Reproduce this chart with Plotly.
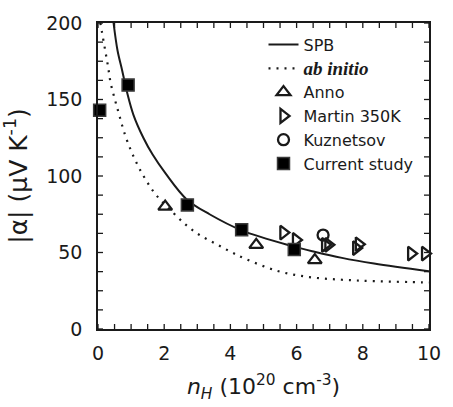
import plotly.graph_objects as go

# SPB model curve
spb_x = [0.47, 0.59, 0.73, 0.88, 1.07, 1.37, 1.65, 2.03, 2.68, 3.37, 4.34, 5.9, 6.54, 7.37, 8.34, 10.0]
spb_y = [200, 182, 169, 154.5, 140, 125, 114, 102, 84.7, 75, 64.5, 54, 50.5, 46.5, 42.8, 37.7]

# ab initio curve
ab_x = [0.07, 0.12, 0.21, 0.30, 0.38, 0.51, 0.64, 0.80, 0.98, 1.2, 1.43, 1.74, 2.27, 2.66, 3.07,
        3.53, 3.98, 4.44, 5.41, 6.39, 7.37, 8.34, 9.8, 10.0]
ab_y = [200, 194, 183, 172, 161, 150, 140, 128, 117.5, 107, 98, 88, 76, 68, 61.4,
        56, 50.8, 46, 38, 33.9, 32.2, 31.3, 30.5, 30.4]

anno_x = [2.03, 4.78, 6.55]
anno_y = [80, 55, 45]

martin_x = [5.6, 5.98, 6.86, 6.96, 7.8, 7.88, 9.46, 9.88]
martin_y = [63, 58.2, 55, 55, 52.9, 55.4, 49.3, 49.3]

kuz_x = [6.8]
kuz_y = [61.4]

cur_x = [0.05, 0.91, 2.70, 4.34, 5.93]
cur_y = [142.9, 159.4, 81.1, 64.8, 51.9]

# tick positions
x_ticks = [0, 2, 4, 6, 8, 10]
x_minor = [0.5 * i for i in range(21)]
y_ticks = [0, 50, 100, 150, 200]
y_minor = [12.5 * i for i in range(17)]

FONT = "DejaVu Sans, Liberation Sans, Arial, sans-serif"
INK = "#1a1a1a"

fig = go.Figure()
fig.add_trace(go.Scatter(x=spb_x, y=spb_y, mode="lines", name="SPB",
                         line=dict(color=INK, width=2, shape="spline", smoothing=1.0)))
fig.add_trace(go.Scatter(x=ab_x, y=ab_y, mode="lines",
                         name="<span style='font-family:Liberation Serif, Times New Roman, serif;font-size:19px'><b><i>ab initio</i></b></span>",
                         line=dict(color=INK, width=2.2, dash="2px,6px", shape="spline", smoothing=1.0)))
fig.add_trace(go.Scatter(x=anno_x, y=anno_y, mode="markers", name="Anno",
                         marker=dict(symbol="triangle-up-open", size=12, color=INK, line=dict(width=2.3, color=INK)),
                         cliponaxis=False))
fig.add_trace(go.Scatter(x=martin_x, y=martin_y, mode="markers", name="Martin 350K",
                         marker=dict(symbol="triangle-right-open", size=12, color=INK, line=dict(width=2.3, color=INK)),
                         cliponaxis=False))
fig.add_trace(go.Scatter(x=kuz_x, y=kuz_y, mode="markers", name="Kuznetsov",
                         marker=dict(symbol="circle-open", size=11, color=INK, line=dict(width=2.3, color=INK)),
                         cliponaxis=False))
fig.add_trace(go.Scatter(x=cur_x, y=cur_y, mode="markers", name="Current study",
                         marker=dict(symbol="square", size=12, color="#000000", line=dict(width=1.5, color="#3a3a3a")),
                         cliponaxis=False))

# tick marks drawn as pixel-sized shapes anchored on the axis values
TL = 5
tick_line = dict(color=INK, width=1.3)
for xv in x_minor:
    for anchor, d in ((0, TL), (200, -TL)):
        fig.add_shape(type="line", xref="x", yref="y", ysizemode="pixel", yanchor=anchor,
                      x0=xv, x1=xv, y0=0, y1=d, line=tick_line, layer="above")
for yv in y_minor:
    for anchor, d in ((0, TL), (10, -TL)):
        fig.add_shape(type="line", xref="x", yref="y", xsizemode="pixel", xanchor=anchor,
                      x0=0, x1=d, y0=yv, y1=yv, line=tick_line, layer="above")

axis_common = dict(showline=True, linecolor=INK, linewidth=1.5, mirror=True,
                   ticks="", showgrid=False, zeroline=False,
                   tickfont=dict(family=FONT, size=19, color=INK))

fig.update_layout(
    width=453, height=407,
    margin=dict(l=98, r=13, t=15, b=77),
    paper_bgcolor="white", plot_bgcolor="white",
    font=dict(family=FONT, color=INK),
    showlegend=True,
    legend=dict(x=0.50, y=0.985, xanchor="left", yanchor="top",
                bgcolor="rgba(0,0,0,0)", borderwidth=0,
                font=dict(family=FONT, size=16, color=INK),
                itemwidth=30, tracegroupgap=0),
    xaxis=dict(range=[0, 10], tickmode="array", tickvals=x_ticks, ticklabelstandoff=6,
               title=dict(text="<i>n<sub>H</sub></i> (10<sup>20</sup> cm<sup>-3</sup>)",
                          font=dict(family=FONT, size=22, color=INK), standoff=16),
               **axis_common),
    yaxis=dict(range=[0, 200], tickmode="array", tickvals=y_ticks, ticklabelstandoff=10,
               title=dict(text="|α| (μV K<sup>-1</sup>)",
                          font=dict(family=FONT, size=25, color=INK), standoff=16),
               **axis_common),
)

fig.write_html("out.html")
